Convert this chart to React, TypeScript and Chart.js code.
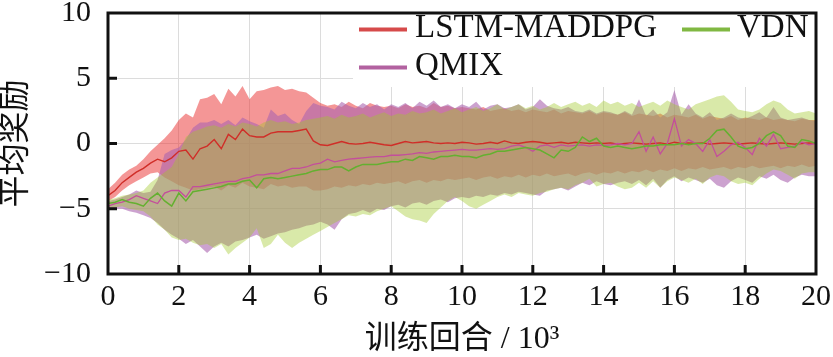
import React, { useEffect, useRef } from "react";
import { Chart, registerables } from "chart.js";

Chart.register(...registerables);

// Training episodes (x 10^3)
const episodes = [
  0, 0.2, 0.4, 0.6, 0.8, 1, 1.2, 1.4, 1.6, 1.8,
  2, 2.2, 2.4, 2.6, 2.8, 3, 3.2, 3.4, 3.6, 3.8,
  4, 4.2, 4.4, 4.6, 4.8, 5, 5.2, 5.4, 5.6, 5.8,
  6, 6.2, 6.4, 6.6, 6.8, 7, 7.2, 7.4, 7.6, 7.8,
  8, 8.2, 8.4, 8.6, 8.8, 9, 9.2, 9.4, 9.6, 9.8,
  10,
  10.2, 10.4, 10.6, 10.8, 11, 11.2, 11.4, 11.6, 11.8, 12,
  12.2, 12.4, 12.6, 12.8, 13, 13.2, 13.4, 13.6, 13.8, 14,
  14.2, 14.4, 14.6, 14.8, 15, 15.2, 15.4, 15.6, 15.8, 16,
  16.2, 16.4, 16.6, 16.8, 17, 17.2, 17.4, 17.6, 17.8, 18,
  18.2, 18.4, 18.6, 18.8, 19, 19.2, 19.4, 19.6, 19.8, 20,
];

const seriesNames = ["LSTM-MADDPG", "QMIX", "VDN"];

// LSTM-MADDPG
const lstmMean = [
  -4.0, -3.6, -3.0, -2.6, -2.2, -1.9, -1.5, -1.2, -1.4, -1.1,
  -0.6, -0.5, -1.2, -0.4, -0.2, 0.3, -0.4, 0.7, 0.3, 1.1,
  0.6, 0.5, 0.5, 0.8, 0.9, 0.9, 0.9, 1.0, 1.1, 0.2,
  -0.1, -0.15, 0.0, 0.15, 0.0, -0.05, 0.0, 0.1, 0.0, -0.1,
  -0.15, 0.0, 0.15, 0.05, 0.1, 0.15, 0.05, 0.0, 0.05, 0.0,
  0.1,
  0.05, -0.05, 0, 0.1, 0, 0.2, 0.05, 0, 0.1, 0.15,
  0.1, 0, 0.05, 0.1, 0, 0.1, 0.05, 0, 0.05, 0,
  0.05, -0.05, 0, 0.05, 0, -0.05, 0, 0.05, -0.05, 0.1,
  0, 0.05, 0, 0.05, -0.05, 0, 0.05, 0, -0.05, 0,
  0.05, 0, -0.05, 0, 0.05, 0, -0.05, 0, 0.05, 0,
];
const lstmUpper = [
  -3.5, -3.0, -2.4, -2.0, -1.7, -1.2, -0.6, -0.1, 0.4, 1.0,
  1.8, 2.3, 2.0, 3.4, 3.5, 3.8, 3.0, 4.2, 3.6, 4.4,
  3.4, 4.0, 4.1, 4.3, 4.4, 4.1, 4.2, 4.0, 3.9, 3.5,
  3.1, 2.9, 3.0, 2.8, 3.2, 2.9, 2.7, 3.1, 2.9, 2.8,
  2.9, 2.7, 3.0, 2.8, 2.9, 2.7, 3.1, 2.8, 2.9, 2.7,
  2.8,
  2.7, 2.6, 2.8, 2.5, 2.6, 2.7, 2.5, 2.6, 2.4, 2.6,
  2.5, 2.4, 2.6, 2.3, 2.5, 2.4, 2.3, 2.5, 2.2, 2.4,
  2.3, 2.2, 2.4, 2.1, 2.3, 2.2, 2.1, 2.3, 2.0, 2.2,
  2.1, 2.0, 2.2, 1.9, 2.1, 2.0, 1.9, 2.1, 1.8, 2.0,
  1.9, 1.8, 2.0, 1.8, 1.9, 1.8, 1.7, 1.9, 1.8, 1.8,
];
const lstmLower = [
  -4.4, -4.1, -3.6, -3.2, -2.9, -2.6, -2.3, -2.2, -2.6, -2.9,
  -3.2, -3.4, -3.6, -3.5, -3.4, -3.3, -3.6, -3.2, -3.4, -3.0,
  -3.3, -3.4, -3.5, -3.1, -3.3, -3.2, -3.4, -3.3, -3.3, -3.6,
  -3.6, -3.5, -3.3, -3.4, -3.2, -3.3, -3.1, -3.2, -3.0, -3.1,
  -3.0, -2.9, -3.1, -2.9, -2.8, -3.0, -2.8, -2.9, -2.7, -2.8,
  -2.7,
  -2.6, -2.8, -2.6, -2.5, -2.7, -2.5, -2.6, -2.4, -2.6, -2.4,
  -2.5, -2.3, -2.5, -2.4, -2.3, -2.5, -2.3, -2.2, -2.4, -2.2,
  -2.3, -2.1, -2.3, -2.1, -2.2, -2.0, -2.2, -2.0, -2.1, -1.9,
  -2.1, -1.9, -2.0, -1.8, -2.0, -1.9, -1.8, -2.0, -1.8, -1.9,
  -1.7, -1.9, -1.8, -1.7, -1.9, -1.7, -1.8, -1.6, -1.8, -1.7,
];

// QMIX
const qmixMean = [
  -4.8, -4.6, -4.5, -4.3, -4.0, -4.2, -4.4, -4.6, -3.8, -3.6,
  -3.6, -4.1, -3.3, -3.3, -3.2, -3.1, -3.0, -2.9, -2.9, -2.7,
  -2.6, -2.4, -2.4, -2.3, -2.3, -2.1, -1.9, -1.9, -1.8, -1.6,
  -1.5, -1.2, -1.4, -1.3, -1.2, -1.15, -1.1, -1.05, -1.0, -1.0,
  -0.9, -0.9, -0.85, -0.8, -0.7, -0.75, -0.65, -0.6, -0.55, -0.5,
  -0.45,
  -0.5, -0.5, -0.45, -0.4, -0.45, -0.4, -0.2, -0.1, -0.3, -0.6,
  -0.2, -0.1, -0.3, -0.1, -0.2, -0.15, -0.1, -0.2, -0.1, -0.15,
  -0.1, 0.0, -0.1, 0.0, 0.9, -0.6, 0.5, -0.8, 0.0, 1.9,
  -0.2, 0.3, 0.0, -0.6, 0.3, -1.0, -0.6, -0.1, 0.1, -0.3,
  -0.85, 0.4, -0.2, 0.7, -0.4, -0.3, -0.2, 0.1, -0.1, 0.0,
];
const qmixUpper = [
  -4.4, -4.3, -4.1, -3.9, -3.6, -3.8, -3.7, -2.8, -0.8, -0.5,
  -0.3, 0.3, 1.2, 1.6, 1.6, 1.8, 1.5, 1.8, 1.4, 2.0,
  1.7, 1.5, 1.2, 2.6, 2.1, 2.3, 1.8, 1.5, 2.5, 3.1,
  2.9, 2.8, 2.6, 3.2, 2.9, 2.7, 3.1, 2.8, 3.0, 2.6,
  3.0, 2.8, 3.1, 2.7, 3.2, 2.9, 3.3, 2.8, 3.0, 2.7,
  3.0,
  2.8, 3.2, 2.6, 2.9, 3.0, 2.7, 2.8, 3.0, 2.6, 2.8,
  3.4, 2.9, 2.7, 2.6, 2.8, 2.5, 2.4, 2.6, 2.3, 2.5,
  2.4, 2.2, 2.5, 2.2, 3.4, 2.1, 2.6, 2.0, 2.4, 4.1,
  2.2, 3.0, 2.3, 2.0, 2.4, 1.8, 2.0, 2.3, 2.0, 1.9,
  2.1, 2.4, 2.0, 2.8, 2.0, 1.8, 1.9, 2.0, 1.8, 1.7,
];
const qmixLower = [
  -5.1, -5.0, -5.0, -5.2, -5.3, -5.5, -5.7, -6.1, -6.6, -7.0,
  -7.3, -7.7, -7.4, -7.9, -8.4, -7.9, -7.6, -7.9, -7.5, -7.4,
  -7.2, -7.0, -7.3, -7.1, -6.9, -6.8, -6.6, -6.5, -6.3, -6.2,
  -6.0, -6.2, -6.6, -5.8, -5.4, -5.3, -5.1, -5.3, -5.0, -5.1,
  -4.8, -4.7, -4.9, -4.6, -4.5, -4.7, -4.4, -4.3, -4.5, -4.2,
  -4.1,
  -4.2, -4.0, -4.1, -3.9, -4.0, -3.8, -3.9, -3.7, -3.8, -3.9,
  -4.0, -3.6, -3.5, -3.4, -3.6, -3.3, -3.0, -3.2, -2.9, -3.1,
  -3.2, -3.0, -2.9, -3.1, -2.8, -3.2, -2.7, -3.4, -2.8, -2.5,
  -2.9, -2.6, -2.8, -3.0, -2.7, -3.2, -3.4, -2.9, -2.6, -2.8,
  -3.0, -2.5, -2.7, -2.4, -2.8, -3.0, -2.6, -2.4, -2.5, -2.5,
];

// VDN
const vdnMean = [
  -4.6, -4.5, -4.3, -4.5, -4.6, -4.8, -4.2, -3.8, -4.4, -4.8,
  -3.8, -4.4, -3.7, -3.6, -3.5, -3.4, -3.3, -3.1, -3.1, -2.9,
  -2.8, -3.4, -2.7, -2.6, -2.7, -2.6, -2.5, -2.4, -2.3, -2.1,
  -2.0, -2.0, -1.8, -1.8, -2.1, -1.8, -1.6, -1.6, -1.6, -1.5,
  -1.4, -1.4, -1.2, -1.3, -1.0, -1.1, -1.2, -1.0, -1.0, -0.9,
  -1.0,
  -1.0, -1.1, -0.9, -0.8, -0.6, -0.6, -0.5, -0.4, -0.3, -0.4,
  -0.5, -0.8, -1.1, -0.5, -0.6, -0.3, 0.5, 0.15, 0.4, -0.2,
  -0.3, -0.2, -0.3, -0.4, -0.3, -0.2, -0.2, -0.1, -0.1, -0.1,
  0.0, -0.1, 0.0, 0.0, 0.4, 1.0, 1.1, 0.5, -0.2, -0.4,
  -0.3, 0.0, 0.6, 0.9, 0.6, -0.2, -0.3, 0.3, 0.2, 0.0,
];
const vdnUpper = [
  -4.3, -4.2, -4.0, -3.9, -3.8, -3.6, -3.0, -2.6, -2.2, -1.8,
  -0.8, 0.5, 0.9, 1.1, 1.3, 1.4, 1.2, 1.5, 1.3, 1.6,
  1.5, 1.3, 1.6, 1.8, 1.6, 1.7, 1.5, 1.6, 1.8, 1.9,
  2.0, 2.1, 1.9, 2.2, 2.0, 2.1, 2.3, 2.0, 2.2, 2.4,
  2.1, 2.3, 2.2, 2.5, 2.3, 2.4, 2.6, 2.3, 2.5, 2.7,
  2.4,
  2.6, 2.8, 2.5, 2.7, 3.0, 2.6, 2.8, 3.0, 2.7, 2.9,
  2.6, 2.8, 3.1, 2.8, 3.0, 3.2, 2.9, 3.1, 2.8, 3.3,
  3.0, 3.2, 2.9, 3.1, 2.8, 3.0, 3.2, 2.9, 3.3, 3.0,
  2.8, 2.6, 3.0, 3.2, 3.4, 3.6, 3.7, 3.2, 2.6, 2.5,
  2.4, 2.6, 3.0, 3.3, 3.1, 2.6, 2.3, 2.4, 2.5, 2.3,
];
const vdnLower = [
  -5.0, -4.9, -4.8, -5.0, -5.1, -5.2, -5.6, -6.2, -6.6, -7.2,
  -7.4, -7.3, -7.6, -7.8, -7.7, -8.0, -7.7, -8.5, -8.0, -7.6,
  -7.2, -6.5, -8.0, -7.7, -7.0, -7.6, -8.0, -7.6, -7.3, -7.0,
  -6.7, -6.4, -6.1, -5.8, -5.5, -5.6, -5.4, -5.5, -5.2, -5.0,
  -4.8, -5.2, -5.6, -5.8, -5.9, -6.1, -5.4, -4.9, -4.4, -4.1,
  -4.4,
  -4.8, -5.0, -4.7, -4.4, -4.1, -3.9, -4.1, -3.8, -3.9, -4.0,
  -3.8, -3.7, -3.5, -3.4, -3.5, -3.2, -3.0, -2.7, -3.3, -3.1,
  -3.0, -3.3, -3.5, -3.4, -3.0, -3.4, -2.9, -3.4, -2.9, -2.6,
  -2.8, -3.0, -2.7, -3.1, -2.6, -2.4, -2.5, -2.9, -3.1, -3.0,
  -3.2, -2.7, -2.3, -2.0, -2.1, -2.4, -2.7, -2.3, -2.2, -2.2,
];

const xTitle = "训练回合 / 10³";
const yTitle = "平均奖励";

const SERIF = "'Liberation Serif', 'Times New Roman', serif";
const TITLE_FONT = "'Liberation Serif', 'Noto Sans CJK SC', serif";

const lineColors = ["rgb(208,46,40)", "rgb(196,78,156)", "rgb(100,176,48)"];
const legendColors = ["rgb(214,74,74)", "rgb(178,98,160)", "rgb(128,184,66)"];
const bandColors = ["rgba(233,45,45,0.5)", "rgba(170,100,175,0.6)", "rgba(160,200,40,0.4)"];

const pts = (arr: number[]) => episodes.map((x, i) => ({ x, y: arr[i] }));

const framePlugin = {
  id: "frameAndTicks",
  afterDatasetsDraw(chart: any) {
    const { ctx, chartArea } = chart;
    const { right, top } = chartArea;
    ctx.save();
    // legend (2 columns, white box, inside the plot, upper right)
    ctx.fillStyle = "#ffffff";
    ctx.fillRect(right - 463, top + 1, 463, 73);
    const rows = [
      { name: seriesNames[0], c: legendColors[0], lx: right - 457, tx: right - 401, y: top + 15 },
      { name: seriesNames[1], c: legendColors[1], lx: right - 457, tx: right - 401, y: top + 53 },
      { name: seriesNames[2], c: legendColors[2], lx: right - 134, tx: right - 79, y: top + 15 },
    ];
    ctx.font = `33px ${SERIF}`;
    ctx.textBaseline = "middle";
    ctx.textAlign = "left";
    for (const r of rows) {
      ctx.strokeStyle = r.c;
      ctx.lineWidth = 4;
      ctx.beginPath();
      ctx.moveTo(r.lx, r.y + 1.5);
      ctx.lineTo(r.lx + 48, r.y + 1.5);
      ctx.stroke();
      ctx.fillStyle = "#111";
      ctx.fillText(r.name, r.tx, r.y);
    }
    ctx.restore();
  },
  afterDraw(chart: any) {
    const { ctx, chartArea, scales } = chart;
    const { left, right, top, bottom } = chartArea;
    ctx.save();
    ctx.strokeStyle = "#111";
    ctx.lineWidth = 3;
    ctx.strokeRect(left, top, right - left, bottom - top);
    ctx.beginPath();
    for (const t of scales.x.ticks) {
      const px = scales.x.getPixelForValue(t.value);
      if (px <= left + 2 || px >= right - 2) continue;
      ctx.moveTo(px, bottom);
      ctx.lineTo(px, bottom - 9);
    }
    for (const t of scales.y.ticks) {
      const py = scales.y.getPixelForValue(t.value);
      if (py <= top + 2 || py >= bottom - 2) continue;
      ctx.moveTo(left, py);
      ctx.lineTo(left + 9, py);
    }
    ctx.stroke();
    ctx.restore();
  },
};

export default function App() {
  const ref = useRef<HTMLCanvasElement | null>(null);

  useEffect(() => {
    if (!ref.current) return;
    const band = (data: number[], color: string, fill: any, order: number) => ({
      data: pts(data),
      borderWidth: 0,
      pointRadius: 0,
      backgroundColor: color,
      borderColor: "rgba(0,0,0,0)",
      fill,
      order,
    });
    const line = (label: string, data: number[], color: string, width: number, order: number) => ({
      label,
      data: pts(data),
      borderColor: color,
      borderWidth: width,
      pointRadius: 0,
      fill: false,
      tension: 0,
      order,
    });
    const chart = new Chart(ref.current, {
      type: "line",
      data: {
        datasets: [
          band(lstmUpper, bandColors[0], "+1", 30),
          band(lstmLower, bandColors[0], false, 30),
          band(qmixUpper, bandColors[1], "+1", 20),
          band(qmixLower, bandColors[1], false, 20),
          band(vdnUpper, bandColors[2], "+1", 10),
          band(vdnLower, bandColors[2], false, 10),
          line(seriesNames[0], lstmMean, lineColors[0], 1.4, 3),
          line(seriesNames[1], qmixMean, lineColors[1], 1.3, 2),
          line(seriesNames[2], vdnMean, lineColors[2], 1.5, 1),
        ] as any,
      },
      options: {
        animation: false,
        responsive: false,
        devicePixelRatio: 1,
        layout: { padding: { top: 13, right: 17, bottom: 0, left: 0 } },
        plugins: {
          legend: { display: false },
          tooltip: { enabled: false },
          filler: { propagate: false },
        },
        scales: {
          x: {
            type: "linear",
            min: 0,
            max: 20,
            ticks: {
              stepSize: 2,
              color: "#111",
              padding: 5,
              font: { family: SERIF, size: 30 },
            },
            grid: { color: "#dcdcdc", lineWidth: 1, drawTicks: false },
            border: { display: false },
            title: {
              display: true,
              text: xTitle,
              color: "#111",
              font: { family: TITLE_FONT, size: 32 },
              padding: { top: 0, bottom: -2 },
            },
            afterFit: (s: any) => {
              s.height = 83;
              s.paddingLeft = 0;
              s.paddingRight = 0;
            },
          },
          y: {
            min: -10,
            max: 10,
            ticks: {
              stepSize: 5,
              color: "#111",
              padding: 17,
              font: { family: SERIF, size: 30 },
              callback: (v: any) => (v < 0 ? "\u2212" + Math.abs(v) : String(v)),
            },
            grid: { color: "#dcdcdc", lineWidth: 1, drawTicks: false },
            border: { display: false },
            title: {
              display: true,
              text: yTitle,
              color: "#111",
              font: { family: TITLE_FONT, size: 32 },
              padding: { top: -3, bottom: 0 },
            },
            afterFit: (s: any) => {
              s.width = 108;
              s.paddingTop = 0;
              s.paddingBottom = 0;
            },
          },
        },
      } as any,
      plugins: [framePlugin],
    });
    return () => chart.destroy();
  }, []);

  return (
    <div style={{ position: "fixed", left: 0, top: 0, width: 833, height: 357, background: "#fff" }}>
      <canvas ref={ref} width={833} height={357} style={{ display: "block" }} />
    </div>
  );
}
